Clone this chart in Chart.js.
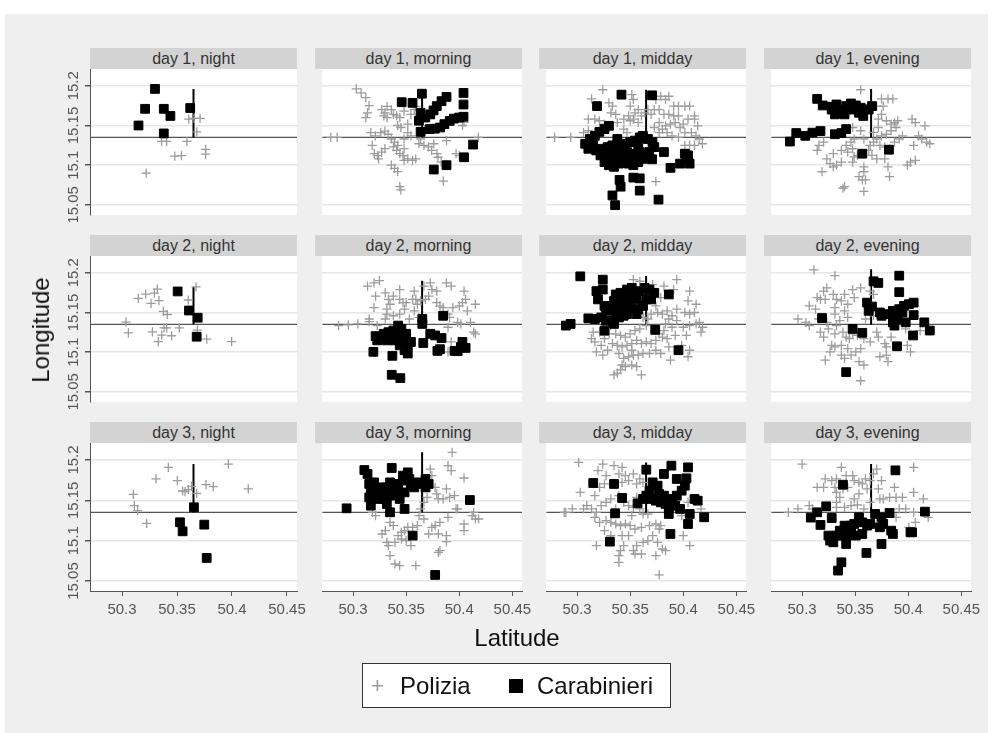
<!DOCTYPE html>
<html><head><meta charset="utf-8">
<script src="https://cdn.jsdelivr.net/npm/chart.js@4"></script>
<style>
html,body{margin:0;padding:0;background:#fff;}
#page{position:relative;width:993px;height:733px;overflow:hidden;font-family:"Liberation Sans",Arial,sans-serif;}
#bg{position:absolute;left:5px;top:14px;width:983px;height:719px;background:#efefef;}
.hdr{position:absolute;height:21px;line-height:21px;background:#d3d3d3;color:#333;text-align:center;font-size:16px;}
canvas{position:absolute;}
.ttl{position:absolute;color:#111;font-size:24px;white-space:nowrap;}
#legend{position:absolute;left:362px;top:663px;width:307px;height:43px;border:1px solid #333;background:#fff;}
#legend span{position:absolute;top:0;line-height:43px;font-size:24px;color:#111;}
</style></head>
<body><div id="page"><div id="bg"></div></div>
<script>
// ---------- categories / ticks ----------
const panelTitles = ['day 1, night','day 1, morning','day 1, midday','day 1, evening',
  'day 2, night','day 2, morning','day 2, midday','day 2, evening',
  'day 3, night','day 3, morning','day 3, midday','day 3, evening'];
const xTicks = [50.3, 50.35, 50.4, 50.45];
const xTickLabels = ['50.3','50.35','50.4','50.45'];
const yTicks = [15.05, 15.1, 15.15, 15.2];
const yTickLabels = ['15.05','15.1','15.15','15.2'];
const seriesNames = ['Polizia','Carabinieri'];
const xRange = [50.2709, 50.4591];
const yRange = [15.0376, 15.2211];
// reference lines
const refLat = 50.365;
const refLon = 15.135;
const refTop = [15.196,15.19,15.195,15.196, 15.182,15.19,15.196,15.2045, 15.195,15.2095,15.197,15.195];

// ---------- data: [latitude, longitude] ----------
const car_d1_night = [[50.330,15.196],[50.321,15.171],[50.338,15.171],[50.344,15.162],[50.362,15.172],[50.315,15.150],[50.338,15.140]];
const pol_d1_night = [[50.3607,15.158],[50.3655,15.159],[50.371,15.159],[50.368,15.142],[50.336,15.130],[50.3406,15.130],[50.359,15.130],[50.348,15.1115],[50.354,15.112],[50.376,15.120],[50.376,15.114],[50.322,15.090]];

const car_d1_morning = [[50.3458,15.1793],[50.356,15.1785],[50.3648,15.190],[50.388,15.186],[50.3833,15.1806],[50.3788,15.1744],[50.3758,15.169],[50.3727,15.164],[50.368,15.160],[50.3636,15.166],[50.362,15.156],[50.3636,15.142],[50.372,15.1455],[50.377,15.146],[50.382,15.1475],[50.386,15.1517],[50.391,15.1558],[50.395,15.1587],[50.400,15.160],[50.404,15.161],[50.404,15.1764],[50.404,15.191],[50.413,15.126],[50.4045,15.110],[50.388,15.100],[50.376,15.0946]];
const pol_d1_morning = [[50.303,15.196],[50.3076,15.191],[50.312,15.185],[50.315,15.175],[50.3136,15.166],[50.312,15.160],[50.279,15.135],[50.285,15.135],[50.3167,15.141],[50.321,15.137],[50.318,15.125],[50.320,15.1145],[50.323,15.112],[50.324,15.108],[50.327,15.1165],[50.330,15.121],[50.332,15.174],[50.330,15.166],[50.332,15.160],[50.336,15.170],[50.338,15.164],[50.341,15.162],[50.344,15.160],[50.342,15.150],[50.345,15.1475],[50.348,15.168],[50.3515,15.1517],[50.333,15.139],[50.336,15.133],[50.339,15.129],[50.338,15.123],[50.342,15.125],[50.341,15.1186],[50.344,15.1145],[50.347,15.112],[50.348,15.106],[50.336,15.100],[50.339,15.096],[50.342,15.092],[50.344,15.073],[50.345,15.069],[50.348,15.121],[50.3515,15.108],[50.356,15.106],[50.359,15.108],[50.362,15.127],[50.3667,15.125],[50.371,15.123],[50.374,15.1186],[50.379,15.1145],[50.380,15.110],[50.383,15.104],[50.385,15.080],[50.388,15.131],[50.397,15.1145],[50.400,15.112],[50.418,15.135],[50.4045,15.154],[50.403,15.150],[50.3576,15.170],[50.359,15.174],[50.3545,15.164],[50.3515,15.141],[50.3545,15.137],[50.326,15.141],[50.330,15.143],[50.348,15.133],[50.3636,15.133],[50.376,15.127],[50.327,15.170],[50.329,15.162]];

const car_d1_midday = [[50.3418,15.1888],[50.3706,15.188],[50.3188,15.1744],[50.330,15.1496],[50.3258,15.1455],[50.321,15.142],[50.3167,15.137],[50.312,15.133],[50.3076,15.127],[50.3106,15.1207],[50.315,15.125],[50.318,15.1186],[50.3227,15.1207],[50.3288,15.1228],[50.3333,15.125],[50.3379,15.133],[50.341,15.127],[50.344,15.1228],[50.350,15.129],[50.3545,15.131],[50.359,15.135],[50.362,15.137],[50.3667,15.133],[50.371,15.129],[50.3727,15.1228],[50.368,15.1166],[50.3636,15.1124],[50.359,15.1166],[50.3545,15.1145],[50.350,15.1104],[50.3455,15.108],[50.341,15.1124],[50.3364,15.1145],[50.3318,15.1124],[50.3288,15.108],[50.3258,15.104],[50.330,15.100],[50.3348,15.098],[50.3394,15.102],[50.344,15.104],[50.3485,15.102],[50.353,15.100],[50.3576,15.104],[50.362,15.108],[50.3288,15.1186],[50.3333,15.108],[50.347,15.1166],[50.3379,15.1207],[50.3706,15.1075],[50.3818,15.1166],[50.388,15.0967],[50.397,15.102],[50.4015,15.1145],[50.403,15.108],[50.406,15.102],[50.4045,15.1124],[50.340,15.0815],[50.341,15.073],[50.353,15.0844],[50.359,15.0835],[50.359,15.068],[50.3333,15.062],[50.3358,15.0497],[50.3767,15.0567],[50.3576,15.125],[50.322,15.1124]];
const pol_d1_midday = [[50.3242,15.195],[50.3136,15.1835],[50.3182,15.1744],[50.330,15.1785],[50.3333,15.1744],[50.3106,15.158],[50.3167,15.158],[50.321,15.156],[50.3258,15.1517],[50.3318,15.166],[50.3364,15.164],[50.3379,15.1537],[50.344,15.1455],[50.347,15.141],[50.3515,15.1888],[50.353,15.1827],[50.350,15.1744],[50.3545,15.166],[50.3576,15.170],[50.3606,15.162],[50.3636,15.166],[50.3667,15.170],[50.3697,15.164],[50.3727,15.170],[50.3742,15.1827],[50.3788,15.1868],[50.3833,15.1827],[50.3864,15.1868],[50.391,15.1744],[50.3955,15.1744],[50.4015,15.1744],[50.406,15.1744],[50.4106,15.162],[50.4136,15.1496],[50.4106,15.158],[50.4045,15.158],[50.400,15.1517],[50.397,15.1475],[50.3924,15.1537],[50.3879,15.1517],[50.3833,15.1496],[50.3803,15.1455],[50.3773,15.141],[50.3848,15.141],[50.3894,15.137],[50.3955,15.135],[50.4015,15.141],[50.4076,15.141],[50.412,15.137],[50.415,15.133],[50.418,15.127],[50.4106,15.125],[50.406,15.125],[50.4015,15.125],[50.2788,15.135],[50.294,15.135],[50.306,15.141],[50.3106,15.1434],[50.3485,15.162],[50.353,15.158],[50.3576,15.1537],[50.344,15.158],[50.3742,15.0794],[50.3773,15.170],[50.3818,15.164],[50.3864,15.164],[50.391,15.162],[50.3955,15.162],[50.350,15.156],[50.3773,15.1537],[50.3727,15.1475]];

const car_d1_evening = [[50.3142,15.1835],[50.3194,15.1752],[50.3279,15.1736],[50.3324,15.170],[50.337,15.168],[50.3415,15.1744],[50.346,15.1777],[50.3506,15.1752],[50.3552,15.1723],[50.3582,15.170],[50.3627,15.170],[50.3658,15.1744],[50.3309,15.164],[50.3355,15.166],[50.3576,15.162],[50.2885,15.1298],[50.2945,15.1405],[50.303,15.137],[50.3097,15.141],[50.3173,15.143],[50.3309,15.139],[50.337,15.1405],[50.3415,15.1455],[50.3567,15.1145],[50.3818,15.1195],[50.3279,15.170],[50.3324,15.1765],[50.340,15.164],[50.3476,15.170],[50.3536,15.166]];
const pol_d1_evening = [[50.3552,15.195],[50.3748,15.1835],[50.3809,15.1835],[50.3855,15.1835],[50.3703,15.1744],[50.3764,15.1744],[50.3748,15.164],[50.3718,15.158],[50.3794,15.156],[50.3839,15.1517],[50.387,15.1537],[50.39,15.156],[50.3885,15.1475],[50.3839,15.1434],[50.3794,15.139],[50.3748,15.137],[50.3703,15.133],[50.3673,15.129],[50.3733,15.125],[50.3779,15.1228],[50.3824,15.1207],[50.387,15.129],[50.3915,15.133],[50.3945,15.137],[50.4036,15.158],[50.4067,15.1537],[50.4157,15.1496],[50.4097,15.137],[50.4127,15.133],[50.4173,15.129],[50.4203,15.127],[50.4051,15.125],[50.3158,15.125],[50.3142,15.1186],[50.3203,15.129],[50.3233,15.108],[50.3264,15.102],[50.3294,15.098],[50.3324,15.100],[50.3188,15.0918],[50.337,15.104],[50.3415,15.125],[50.346,15.129],[50.3476,15.1207],[50.343,15.1166],[50.3491,15.1104],[50.3476,15.104],[50.3521,15.1124],[50.3582,15.098],[50.3582,15.0918],[50.3536,15.0856],[50.3567,15.0815],[50.3597,15.0815],[50.340,15.073],[50.3385,15.071],[50.3582,15.067],[50.3824,15.0856],[50.3809,15.098],[50.3779,15.108],[50.3703,15.108],[50.3658,15.1124],[50.3627,15.1186],[50.3673,15.1413],[50.3718,15.1475],[50.3552,15.1434],[50.3476,15.1475],[50.3991,15.100],[50.4021,15.104],[50.4067,15.106],[50.337,15.1186],[50.3294,15.1145],[50.3491,15.133],[50.3582,15.133],[50.3642,15.125]];

const car_d2_night = [[50.3506,15.1765],[50.3609,15.1525],[50.3688,15.1434],[50.3679,15.1195]];
const pol_d2_night = [[50.3321,15.1794],[50.3294,15.1744],[50.3215,15.1732],[50.3148,15.1678],[50.3264,15.1616],[50.3336,15.1649],[50.3376,15.1513],[50.3412,15.1475],[50.3036,15.138],[50.3058,15.1244],[50.3276,15.1257],[50.3361,15.1215],[50.333,15.1133],[50.3382,15.1306],[50.3406,15.1306],[50.3451,15.1207],[50.3521,15.1306],[50.3603,15.1657],[50.3673,15.1822],[50.3685,15.1277],[50.377,15.1166],[50.3997,15.1133]];

const car_d2_morning = [[50.3652,15.1356],[50.3848,15.1459],[50.3212,15.1203],[50.3227,15.1149],[50.3288,15.1232],[50.3333,15.1252],[50.3379,15.1273],[50.3424,15.1335],[50.3455,15.1294],[50.3409,15.1232],[50.3364,15.1191],[50.3318,15.1149],[50.3394,15.1149],[50.3455,15.1191],[50.35,15.1232],[50.3485,15.1129],[50.3439,15.1087],[50.3515,15.1087],[50.3545,15.1129],[50.3485,15.1025],[50.3515,15.0984],[50.3191,15.1005],[50.337,15.0955],[50.3661,15.1116],[50.3727,15.1232],[50.3773,15.1211],[50.3833,15.1178],[50.3794,15.1017],[50.3818,15.1038],[50.3955,15.1017],[50.3985,15.1013],[50.403,15.1129],[50.406,15.1054],[50.4015,15.1067],[50.3364,15.0716],[50.3445,15.0674],[50.3652,15.1418]];
const pol_d2_morning = [[50.3136,15.1831],[50.3197,15.1872],[50.3248,15.1901],[50.3212,15.1707],[50.3303,15.1748],[50.3333,15.1665],[50.3348,15.1604],[50.3318,15.1542],[50.3318,15.148],[50.3197,15.1562],[50.3152,15.1418],[50.3152,15.1385],[50.2864,15.1335],[50.2955,15.1343],[50.3045,15.1356],[50.3227,15.1335],[50.3303,15.1418],[50.3379,15.1459],[50.3439,15.148],[50.3485,15.1542],[50.3561,15.1665],[50.3576,15.1769],[50.3591,15.1665],[50.3606,15.1604],[50.3636,15.1645],[50.3682,15.1665],[50.3712,15.1707],[50.3727,15.1872],[50.3742,15.1789],[50.3788,15.1769],[50.3788,15.1624],[50.3818,15.1583],[50.3848,15.1562],[50.3879,15.1872],[50.3924,15.1831],[50.4045,15.1769],[50.406,15.1665],[50.403,15.1624],[50.4,15.1583],[50.3939,15.1562],[50.4076,15.1521],[50.4152,15.1604],[50.4106,15.1376],[50.4136,15.1252],[50.4152,15.1232],[50.3985,15.1376],[50.4015,15.1356],[50.3894,15.1314],[50.3894,15.148],[50.3909,15.1438],[50.353,15.1418],[50.3379,15.1707],[50.3439,15.1665],[50.35,15.1624],[50.3576,15.1521],[50.3621,15.1438],[50.3924,15.1129],[50.3894,15.1005],[50.3439,15.1789],[50.347,15.1624],[50.3667,15.1831]];

const car_d2_midday = [[50.303,15.1955],[50.3242,15.1913],[50.3242,15.1789],[50.3182,15.1769],[50.3197,15.1665],[50.3258,15.1583],[50.3273,15.1521],[50.3106,15.1426],[50.3167,15.1418],[50.3227,15.1438],[50.3273,15.1397],[50.3258,15.1273],[50.3348,15.1356],[50.3364,15.1459],[50.3333,15.1542],[50.3348,15.1645],[50.3364,15.1727],[50.3409,15.1748],[50.3439,15.1686],[50.347,15.1789],[50.3515,15.181],[50.3545,15.1727],[50.3561,15.1665],[50.3591,15.1769],[50.3636,15.181],[50.3682,15.1789],[50.3727,15.1748],[50.3697,15.1665],[50.3652,15.1665],[50.3621,15.1583],[50.3576,15.1542],[50.3515,15.1542],[50.347,15.148],[50.3439,15.1459],[50.3394,15.1438],[50.3439,15.1583],[50.3485,15.1624],[50.3424,15.1624],[50.3394,15.1542],[50.3515,15.1707],[50.3864,15.1727],[50.3736,15.1281],[50.3955,15.1025],[50.2894,15.1335],[50.2939,15.1356],[50.3561,15.148],[50.3333,15.1397]];
const pol_d2_midday = [[50.353,15.1913],[50.3591,15.1893],[50.3712,15.1851],[50.3818,15.1831],[50.3939,15.1913],[50.3909,15.1789],[50.406,15.1769],[50.4045,15.1645],[50.4121,15.1604],[50.3788,15.1686],[50.3742,15.1583],[50.3758,15.15],[50.3803,15.148],[50.3848,15.1521],[50.3894,15.1459],[50.3939,15.1542],[50.4015,15.15],[50.406,15.148],[50.4106,15.15],[50.4152,15.1376],[50.4182,15.1314],[50.4167,15.1252],[50.4121,15.1356],[50.406,15.1335],[50.4,15.1314],[50.3939,15.1397],[50.3864,15.1418],[50.3833,15.1356],[50.3894,15.1314],[50.3818,15.1273],[50.3773,15.1232],[50.3667,15.1418],[50.3621,15.1438],[50.3591,15.148],[50.3697,15.148],[50.3652,15.1335],[50.3591,15.1294],[50.3545,15.1273],[50.35,15.1232],[50.3455,15.1191],[50.3409,15.1211],[50.3364,15.1232],[50.3303,15.1232],[50.3258,15.1211],[50.3212,15.1252],[50.3152,15.1252],[50.3136,15.117],[50.3167,15.1129],[50.3227,15.1087],[50.3182,15.1005],[50.3242,15.0963],[50.3288,15.1025],[50.3333,15.1108],[50.3379,15.1087],[50.3424,15.1067],[50.347,15.1087],[50.3515,15.1108],[50.3561,15.1149],[50.3606,15.1108],[50.3652,15.1129],[50.3682,15.0984],[50.3621,15.0984],[50.3576,15.0963],[50.353,15.0963],[50.3485,15.0943],[50.3439,15.0922],[50.3424,15.0839],[50.3455,15.0819],[50.3515,15.0839],[50.3561,15.0819],[50.3606,15.0716],[50.3379,15.0736],[50.3348,15.0716],[50.3409,15.0778],[50.3697,15.1108],[50.3742,15.1149],[50.3803,15.1191],[50.3864,15.1067],[50.3879,15.0901],[50.3985,15.1087],[50.403,15.1211],[50.4045,15.0943],[50.3742,15.1025],[50.3788,15.0984],[50.3848,15.117],[50.3924,15.1211],[50.406,15.1025],[50.3318,15.1335],[50.3258,15.117],[50.3394,15.0984],[50.3515,15.1025]];

const car_d2_evening = [[50.3673,15.1893],[50.3718,15.1872],[50.3915,15.1963],[50.3915,15.1756],[50.3612,15.1624],[50.3658,15.1575],[50.3627,15.1521],[50.3733,15.15],[50.3748,15.1459],[50.3809,15.148],[50.3855,15.1521],[50.387,15.1459],[50.39,15.1418],[50.3855,15.1376],[50.387,15.1335],[50.3915,15.1542],[50.396,15.1583],[50.4006,15.1604],[50.4051,15.1624],[50.3945,15.15],[50.4051,15.1467],[50.3976,15.1376],[50.4151,15.1376],[50.4203,15.1273],[50.4045,15.1211],[50.3894,15.1075],[50.3476,15.1294],[50.3567,15.1244],[50.3188,15.143],[50.3415,15.0749]];
const pol_d2_evening = [[50.3112,15.2037],[50.3309,15.1963],[50.3233,15.181],[50.3203,15.1769],[50.3142,15.1686],[50.3173,15.1665],[50.3218,15.1665],[50.3067,15.1583],[50.3127,15.1542],[50.3294,15.1727],[50.3324,15.1665],[50.337,15.1645],[50.34,15.1727],[50.3476,15.1789],[50.3552,15.181],[50.3491,15.1686],[50.343,15.1604],[50.3309,15.1562],[50.3309,15.148],[50.34,15.1521],[50.343,15.1438],[50.3355,15.1397],[50.3324,15.1335],[50.3233,15.1376],[50.3158,15.1418],[50.3067,15.1335],[50.2961,15.1418],[50.3036,15.1376],[50.3248,15.1294],[50.3173,15.1252],[50.3203,15.1191],[50.3309,15.1232],[50.3385,15.1252],[50.3415,15.1191],[50.3445,15.117],[50.3476,15.1232],[50.3521,15.1211],[50.3582,15.117],[50.3642,15.1129],[50.3703,15.1252],[50.3718,15.1191],[50.3673,15.1459],[50.3597,15.1418],[50.3673,15.1727],[50.3642,15.1769],[50.3279,15.1087],[50.3309,15.1067],[50.337,15.1087],[50.3264,15.1005],[50.3218,15.0901],[50.337,15.0963],[50.34,15.0922],[50.3461,15.0963],[50.3506,15.1005],[50.3552,15.1046],[50.3536,15.0881],[50.3582,15.0839],[50.3552,15.0641],[50.3733,15.0943],[50.3794,15.0963],[50.3809,15.0881],[50.3839,15.1191],[50.3779,15.1108],[50.3794,15.1067],[50.3991,15.1087],[50.4021,15.1005],[50.3976,15.1294],[50.4112,15.1273],[50.343,15.1046]];

const car_d3_night = [[50.3654,15.1414],[50.3527,15.1228],[50.3551,15.1116],[50.3748,15.1199],[50.377,15.0786]];
const pol_d3_night = [[50.3103,15.1575],[50.3112,15.1434],[50.3142,15.1372],[50.3224,15.1215],[50.3309,15.1765],[50.3421,15.1909],[50.3503,15.1744],[50.3573,15.1608],[50.3633,15.1674],[50.3679,15.1587],[50.3764,15.1694],[50.383,15.167],[50.3967,15.195],[50.4148,15.1641],[50.3603,15.1632],[50.3551,15.1616]];

const car_d3_morning = [[50.2939,15.1401],[50.3106,15.1876],[50.3136,15.1827],[50.3152,15.1703],[50.3197,15.1723],[50.3167,15.1641],[50.3152,15.1537],[50.3167,15.1434],[50.3227,15.1599],[50.3258,15.1661],[50.3303,15.1599],[50.3288,15.1517],[50.3318,15.1455],[50.3348,15.1352],[50.3348,15.1558],[50.3348,15.1723],[50.3364,15.1901],[50.3379,15.1661],[50.3409,15.1599],[50.3439,15.1517],[50.3424,15.1703],[50.347,15.1806],[50.3485,15.1744],[50.3485,15.1599],[50.3485,15.1393],[50.3515,15.1847],[50.3545,15.1682],[50.3576,15.1661],[50.3606,15.1723],[50.3636,15.1703],[50.3682,15.1765],[50.3712,15.1703],[50.3682,15.1661],[50.3561,15.1063],[50.41,15.1504],[50.3773,15.0575],[50.353,15.1765],[50.3227,15.1517],[50.3318,15.1661]];
const pol_d3_morning = [[50.3933,15.2095],[50.3894,15.193],[50.3924,15.1868],[50.4045,15.1777],[50.3727,15.1888],[50.3742,15.1806],[50.3879,15.1641],[50.3788,15.1579],[50.3803,15.1517],[50.3848,15.1517],[50.3909,15.1537],[50.3955,15.1558],[50.3985,15.1393],[50.3894,15.129],[50.3818,15.1228],[50.3773,15.1186],[50.3742,15.1166],[50.3712,15.1083],[50.3803,15.1083],[50.3879,15.1063],[50.3879,15.0988],[50.4045,15.1207],[50.4045,15.1124],[50.4121,15.131],[50.4152,15.1269],[50.4182,15.1269],[50.4136,15.1352],[50.397,15.1393],[50.3636,15.1393],[50.3621,15.131],[50.3667,15.1269],[50.3606,15.1186],[50.3561,15.1166],[50.3515,15.1166],[50.3485,15.1124],[50.3455,15.1104],[50.3424,15.1063],[50.3455,15.1021],[50.3394,15.098],[50.35,15.1001],[50.3545,15.0939],[50.3348,15.1228],[50.3379,15.1186],[50.3303,15.1124],[50.3273,15.1083],[50.3318,15.098],[50.3333,15.0939],[50.3348,15.0815],[50.3394,15.0711],[50.3439,15.0691],[50.3591,15.0691],[50.3803,15.0856],[50.3818,15.0877],[50.3182,15.1352],[50.3212,15.131],[50.3697,15.1537],[50.3667,15.1475],[50.3773,15.1661]];

const car_d3_midday = [[50.3152,15.1715],[50.3348,15.1703],[50.3424,15.1529],[50.357,15.1463],[50.3358,15.1339],[50.3309,15.0988],[50.3652,15.188],[50.3888,15.193],[50.3818,15.1827],[50.4045,15.1909],[50.403,15.1773],[50.3939,15.1765],[50.3712,15.1723],[50.3758,15.1682],[50.3682,15.162],[50.3652,15.1558],[50.3697,15.1517],[50.3742,15.1496],[50.3788,15.1475],[50.3833,15.1455],[50.3864,15.1414],[50.3864,15.1331],[50.3894,15.1517],[50.3939,15.1558],[50.3985,15.162],[50.4015,15.1682],[50.4106,15.1517],[50.4136,15.1496],[50.4061,15.1331],[50.4045,15.1207],[50.4197,15.129],[50.3879,15.1083],[50.3818,15.1558],[50.3773,15.1579],[50.397,15.1393],[50.3924,15.1434],[50.3621,15.1517]];
const pol_d3_midday = [[50.3015,15.1971],[50.3242,15.195],[50.3348,15.193],[50.3424,15.1909],[50.3197,15.1868],[50.3273,15.1806],[50.3394,15.1827],[50.3455,15.1806],[50.353,15.1827],[50.3485,15.1744],[50.3424,15.1723],[50.3561,15.1703],[50.3591,15.1765],[50.3621,15.1723],[50.3258,15.1703],[50.3212,15.1661],[50.3167,15.1558],[50.303,15.1599],[50.3091,15.1434],[50.3061,15.1393],[50.3136,15.1393],[50.3182,15.1352],[50.3227,15.1434],[50.3273,15.1475],[50.3318,15.1517],[50.3394,15.1558],[50.3439,15.1475],[50.3485,15.1434],[50.353,15.1414],[50.3591,15.1393],[50.3621,15.1331],[50.3667,15.1331],[50.3167,15.129],[50.3212,15.1228],[50.3273,15.1248],[50.3318,15.1228],[50.3364,15.1207],[50.3409,15.1186],[50.3455,15.1207],[50.35,15.1186],[50.3545,15.1145],[50.3606,15.1166],[50.3682,15.1186],[50.3742,15.1207],[50.3788,15.1186],[50.3773,15.1145],[50.3712,15.1063],[50.3758,15.098],[50.3803,15.0897],[50.3833,15.0877],[50.4,15.1063],[50.4061,15.0939],[50.3742,15.0815],[50.3773,15.0575],[50.3394,15.0732],[50.3394,15.0815],[50.3409,15.0877],[50.3439,15.0939],[50.353,15.0877],[50.3545,15.0835],[50.3606,15.0835],[50.3561,15.0939],[50.3621,15.098],[50.3667,15.1001],[50.3485,15.1063],[50.3424,15.1063],[50.3318,15.1063],[50.3258,15.1124],[50.3182,15.0939],[50.2879,15.1352],[50.2894,15.1352],[50.2955,15.1393],[50.3561,15.1537],[50.3985,15.131],[50.4045,15.1475],[50.4167,15.1393],[50.3364,15.1393],[50.3515,15.1311]];

const car_d3_evening = [[50.3879,15.1872],[50.3385,15.1694],[50.3227,15.1426],[50.3082,15.1286],[50.3142,15.1352],[50.3173,15.1195],[50.3279,15.1281],[50.3248,15.1063],[50.3264,15.1001],[50.3294,15.098],[50.3324,15.1063],[50.3355,15.1124],[50.34,15.1186],[50.343,15.1145],[50.3461,15.1186],[50.3491,15.1207],[50.3536,15.129],[50.3567,15.1228],[50.3612,15.1186],[50.3642,15.1207],[50.3688,15.1331],[50.3748,15.129],[50.3764,15.1207],[50.3733,15.1166],[50.3824,15.1343],[50.3839,15.1124],[50.3855,15.1083],[50.4021,15.1104],[50.4036,15.1104],[50.4157,15.136],[50.3415,15.0959],[50.3506,15.1063],[50.3567,15.1083],[50.3461,15.1124],[50.337,15.1063],[50.3748,15.0959],[50.3606,15.0848],[50.337,15.0732],[50.3339,15.0629],[50.3415,15.1063]];
const pol_d3_evening = [[50.3,15.195],[50.337,15.1909],[50.3703,15.1888],[50.4051,15.1909],[50.3218,15.1765],[50.3279,15.1744],[50.3324,15.1765],[50.3415,15.1806],[50.3476,15.1806],[50.3491,15.1744],[50.3536,15.1723],[50.3567,15.1703],[50.3597,15.1765],[50.3642,15.1744],[50.3673,15.1827],[50.3748,15.1744],[50.3142,15.1661],[50.3203,15.1661],[50.3309,15.1661],[50.3324,15.1599],[50.3355,15.1537],[50.3324,15.1475],[50.34,15.1414],[50.3491,15.1517],[50.3536,15.1579],[50.3612,15.1641],[50.3718,15.1641],[50.3733,15.1517],[50.3764,15.1517],[50.3824,15.1537],[50.387,15.1661],[50.3885,15.1537],[50.3945,15.1537],[50.4051,15.1599],[50.4142,15.1517],[50.3976,15.1393],[50.4188,15.129],[50.4067,15.1228],[50.4006,15.1166],[50.3885,15.129],[50.3067,15.1434],[50.2961,15.1393],[50.287,15.1352],[50.3097,15.1393],[50.3324,15.1414],[50.3461,15.1434],[50.3521,15.1442],[50.3642,15.1475],[50.3582,15.1393],[50.3915,15.1393],[50.4051,15.1352],[50.3385,15.1641],[50.343,15.1661]];

const polizia = [pol_d1_night,pol_d1_morning,pol_d1_midday,pol_d1_evening,pol_d2_night,pol_d2_morning,pol_d2_midday,pol_d2_evening,pol_d3_night,pol_d3_morning,pol_d3_midday,pol_d3_evening];
const carabinieri = [car_d1_night,car_d1_morning,car_d1_midday,car_d1_evening,car_d2_night,car_d2_morning,car_d2_midday,car_d2_evening,car_d3_night,car_d3_morning,car_d3_midday,car_d3_evening];

// ---------- layout ----------
const FONT = "'Liberation Sans', Arial, sans-serif";
const colLeft = [90, 315, 539, 764];
const rowTop = [69, 256, 443];
const PW = 207, PH = 148;
const page = document.getElementById('page');

const whiteBg = {id:'whiteBg', beforeDraw(chart){
  const {ctx, chartArea:a} = chart;
  ctx.save(); ctx.fillStyle = '#fff';
  ctx.fillRect(a.left, a.top, a.right - a.left, a.bottom - a.top);
  ctx.restore();
}};

panelTitles.forEach((title, i) => {
  const col = i % 4, row = Math.floor(i / 4);
  const isLeft = col === 0, isBottom = row === 2;
  const axisW = isLeft ? 50 : 0, axisH = isBottom ? 35 : 0;
  const padT = 10, padR = 22, padB = 5;
  const cw = axisW + PW + padR, ch = padT + PH + axisH + padB;

  const hdr = document.createElement('div');
  hdr.className = 'hdr';
  hdr.style.left = colLeft[col] + 'px';
  hdr.style.top = (rowTop[row] - 21) + 'px';
  hdr.style.width = PW + 'px';
  hdr.textContent = title;
  page.appendChild(hdr);

  const cv = document.createElement('canvas');
  cv.width = cw; cv.height = ch;
  cv.style.left = (colLeft[col] - axisW) + 'px';
  cv.style.top = (rowTop[row] - padT) + 'px';
  cv.style.width = cw + 'px'; cv.style.height = ch + 'px';
  page.appendChild(cv);

  new Chart(cv.getContext('2d'), {
    type: 'scatter',
    data: { datasets: [
      { label: seriesNames[1], data: carabinieri[i].map(([x, y]) => ({x, y})),
        pointStyle: 'rect', pointRadius: 6.2, backgroundColor: '#000', borderColor: '#000', borderWidth: 1, order: 1 },
      { label: seriesNames[0], data: polizia[i].map(([x, y]) => ({x, y})),
        pointStyle: 'cross', pointRadius: 4.6, borderColor: '#9c9c9c', backgroundColor: '#9c9c9c', borderWidth: 1.3, order: 3 },
      { label: 'ref-v', data: [{x: refLat, y: refLon}, {x: refLat, y: refTop[i]}], showLine: true,
        borderColor: '#000', borderWidth: 2, pointRadius: 0, order: 4 },
      { label: 'ref-h', data: [{x: xRange[0], y: refLon}, {x: xRange[1], y: refLon}], showLine: true,
        borderColor: '#555', borderWidth: 1.2, pointRadius: 0, order: 5 }
    ]},
    options: {
      responsive: false, animation: false, devicePixelRatio: 1, events: [],
      layout: { padding: { top: padT, right: padR, bottom: padB, left: 0 } },
      plugins: { legend: { display: false }, tooltip: { enabled: false } },
      scales: {
        x: {
          type: 'linear', min: xRange[0], max: xRange[1], display: isBottom,
          afterBuildTicks: s => { s.ticks = xTicks.map(v => ({value: v})); },
          afterFit: s => { s.height = axisH; },
          grid: { drawOnChartArea: false, drawTicks: true, tickLength: 5, tickColor: '#555' },
          border: { display: true, color: '#555' },
          ticks: { font: { size: 15, family: FONT }, color: '#555', padding: 5, maxRotation: 0,
            callback: (v, idx) => xTickLabels[idx] }
        },
        y: {
          type: 'linear', min: yRange[0], max: yRange[1],
          afterBuildTicks: s => { s.ticks = yTicks.map(v => ({value: v})); },
          afterFit: s => { s.width = axisW; },
          grid: { color: '#e6e6e6', lineWidth: 1.5, drawTicks: isLeft, tickLength: 5, tickColor: '#555' },
          border: { display: isLeft, color: '#555' },
          ticks: { display: isLeft, font: { size: 15, family: FONT }, color: '#555',
            minRotation: 90, maxRotation: 90, crossAlign: 'center', padding: -8,
            callback: (v, idx) => yTickLabels[idx] }
        }
      }
    },
    plugins: [whiteBg]
  });
});

// axis titles
const yt = document.createElement('div');
yt.className = 'ttl'; yt.textContent = 'Longitude';
yt.style.left = '41px'; yt.style.top = '330px';
yt.style.transform = 'translate(-50%,-50%) rotate(-90deg)';
page.appendChild(yt);
const xt = document.createElement('div');
xt.className = 'ttl'; xt.textContent = 'Latitude';
xt.style.left = '517px'; xt.style.top = '638px';
xt.style.transform = 'translate(-50%,-50%)';
page.appendChild(xt);

// legend
const lg = document.createElement('div'); lg.id = 'legend';
lg.innerHTML = '<span style="left:8px;color:#9c9c9c;font-size:22px;">+</span>' +
  '<span style="left:37px;">' + seriesNames[0] + '</span>' +
  '<span style="left:146px;top:15px;width:14px;height:14px;background:#000;line-height:14px;"></span>' +
  '<span style="left:174px;">' + seriesNames[1] + '</span>';
page.appendChild(lg);
</script>
</body></html>
